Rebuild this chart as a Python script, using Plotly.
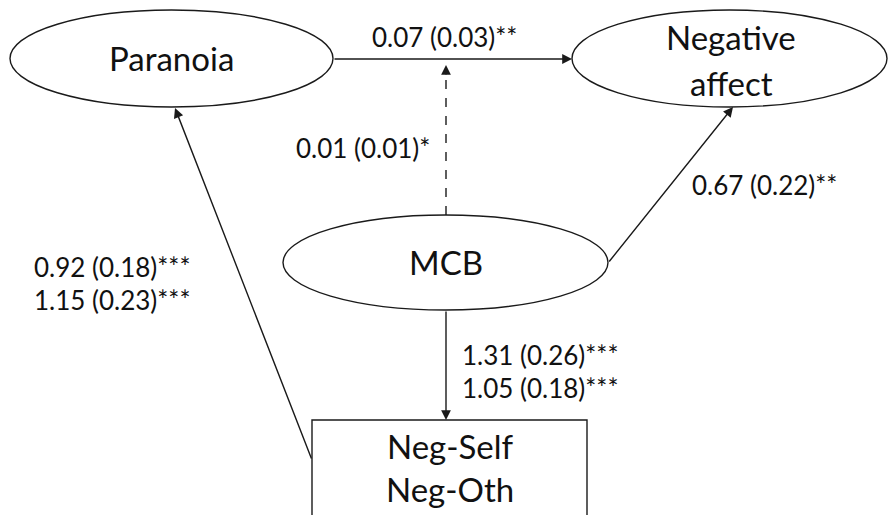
import plotly.graph_objects as go

# ---- data: node names and path coefficients ----
node_names = ["Paranoia", "Negative", "affect", "MCB", "Neg-Self", "Neg-Oth"]
coef_par_na = ["0.07 (0.03)**"]
coef_mod = ["0.01 (0.01)*"]
coef_mcb_na = ["0.67 (0.22)**"]
coef_mcb_neg = ["1.31 (0.26)***", "1.05 (0.18)***"]
coef_neg_par = ["0.92 (0.18)***", "1.15 (0.23)***"]

# ---- layout geometry (pixel coordinates) ----
W, H = 888, 515
LC = "#1a1a1a"
ellipses = {
    "par": (10, 10, 333, 107),
    "na": (572, 10, 887, 107),
    "mcb": (283, 215, 608, 310),
}
box = (312, 420, 587, 530)

fig = go.Figure()
shapes = []
for k, (x0, y0, x1, y1) in ellipses.items():
    shapes.append(dict(type="circle", xref="x", yref="y", x0=x0, y0=y0, x1=x1, y1=y1,
                       line=dict(color=LC, width=1.4), fillcolor="white", layer="below"))
shapes.append(dict(type="rect", xref="x", yref="y", x0=box[0], y0=box[1], x1=box[2], y1=box[3],
                   line=dict(color=LC, width=1.4), fillcolor="white", layer="below"))
# dashed moderation line
shapes.append(dict(type="line", xref="x", yref="y", x0=446, y0=215, x1=446, y1=72,
                   line=dict(color=LC, width=1.4, dash="dash")))

annotations = []
def arrow(x0, y0, x1, y1):
    annotations.append(dict(x=x1, y=y1, ax=x0, ay=y0, xref="x", yref="y", axref="x", ayref="y",
                            text="", showarrow=True, arrowhead=2, arrowsize=1.4,
                            arrowwidth=1.4, arrowcolor=LC))

arrow(333, 59, 572, 59)          # Paranoia -> Negative affect
arrow(446, 76, 446, 65)          # dashed head
arrow(608, 263, 733, 107)        # MCB -> Negative affect
arrow(446, 310, 446, 420)        # MCB -> Neg box
arrow(312, 460, 175, 108)        # Neg box -> Paranoia

def txt(x, y, s, size, anchor="center"):
    annotations.append(dict(x=x, y=y, xref="x", yref="y", text=s, showarrow=False,
                            xanchor=anchor, yanchor="middle",
                            font=dict(family="Lato", size=size, color="#111111")))

NODE = 33
LAB = 26
txt(171, 58, node_names[0], NODE)
txt(731, 37, node_names[1], NODE)
txt(731, 83, node_names[2], NODE)
txt(446, 262, node_names[3], NODE)
txt(450, 446, node_names[4], NODE)
txt(450, 489, node_names[5], NODE)

txt(444, 37, coef_par_na[0], LAB)
txt(432, 148, coef_mod[0], LAB, "right")
txt(690, 185, coef_mcb_na[0], LAB, "left")
txt(460, 355, coef_mcb_neg[0], LAB, "left")
txt(460, 388, coef_mcb_neg[1], LAB, "left")
txt(32, 267, coef_neg_par[0], LAB, "left")
txt(32, 300, coef_neg_par[1], LAB, "left")

fig.update_layout(
    width=W, height=H, margin=dict(l=0, r=0, t=0, b=0),
    paper_bgcolor="white", plot_bgcolor="white",
    xaxis=dict(range=[0, W], visible=False, fixedrange=True),
    yaxis=dict(range=[H, 0], visible=False, fixedrange=True),
    shapes=shapes, annotations=annotations, showlegend=False,
)
fig.write_html("out.html", config={"displayModeBar": False},
               post_script="document.body.style.margin='0';document.body.style.overflow='hidden';")
